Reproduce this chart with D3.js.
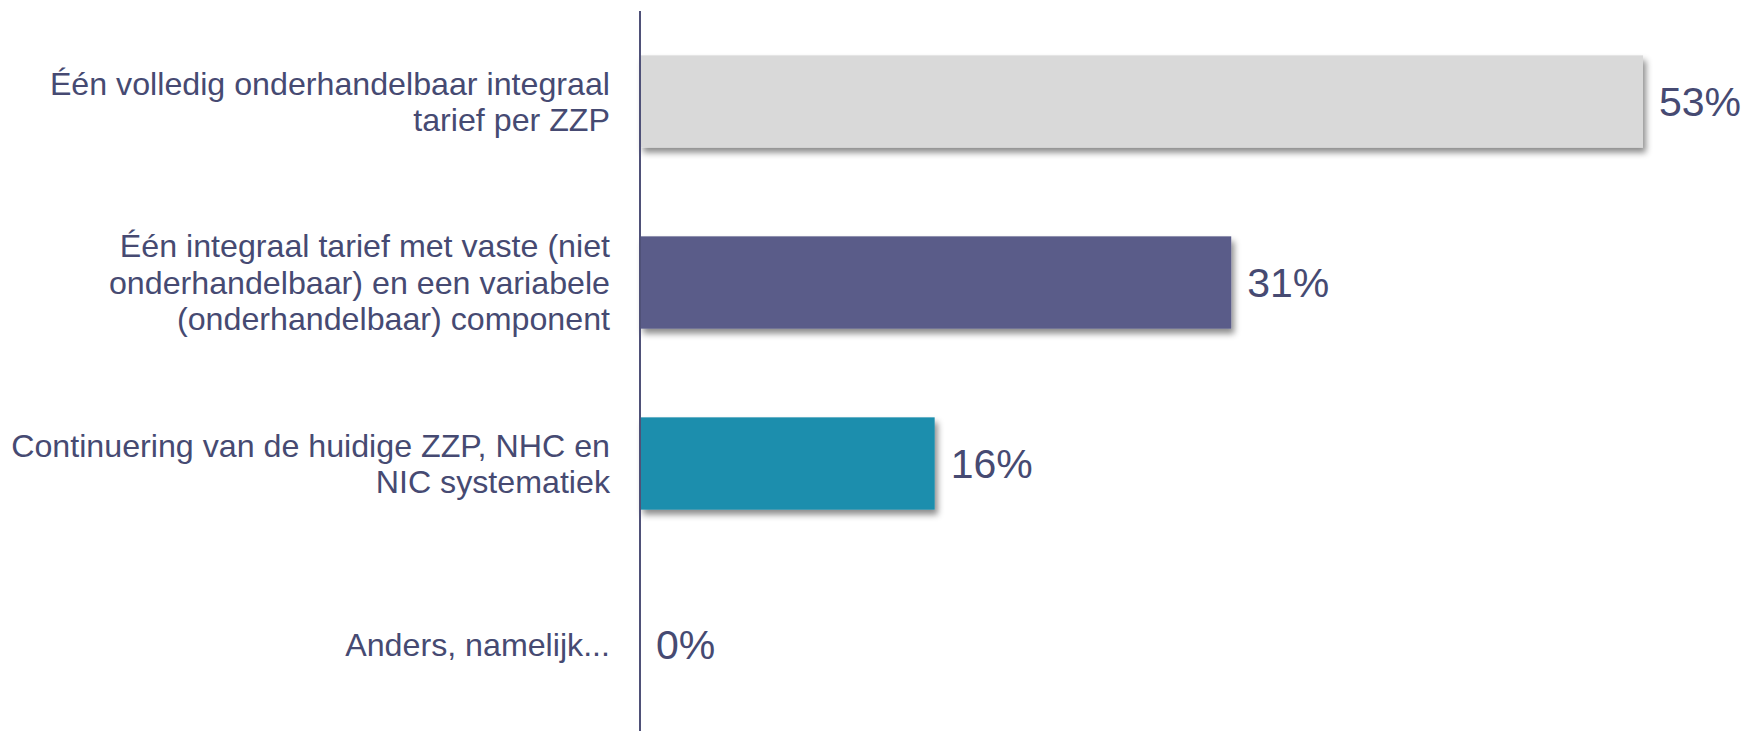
<!DOCTYPE html>
<html>
<head>
<meta charset="utf-8">
<script src="https://cdn.jsdelivr.net/npm/d3@7"></script>
<style>
  html, body { margin: 0; padding: 0; background: #ffffff; }
  svg { display: block; }
</style>
</head>
<body>
<svg id="chart" width="1746" height="731"></svg>
<script>
const categories = [
  ["Één volledig onderhandelbaar integraal", "tarief per ZZP"],
  ["Één integraal tarief met vaste (niet", "onderhandelbaar) en een variabele", "(onderhandelbaar) component"],
  ["Continuering van de huidige ZZP, NHC en", "NIC systematiek"],
  ["Anders, namelijk..."]
];
const values = [53.1, 31.3, 15.6, 0];
const valueLabels = ["53%", "31%", "16%", "0%"];
const barColors = ["#D9D9D9", "#5A5B89", "#1F8EAD"];

const svg = d3.select("#chart");
const textColor = "#464A72";

const ids = categories.map((c, i) => i);
const y = d3.scaleBand().domain(ids).range([11, 735]).paddingInner(0.49).paddingOuter(0.245);
const x = d3.scaleLinear().domain([0, 53.1]).range([640, 1643]);

const defs = svg.append("defs");
const f = defs.append("filter").attr("id", "shadow").attr("x", "-5%").attr("y", "-20%").attr("width", "115%").attr("height", "150%");
f.append("feDropShadow").attr("dx", 3).attr("dy", 5).attr("stdDeviation", 3)
  .attr("flood-color", "#000").attr("flood-opacity", 0.45);

svg.append("g").selectAll("rect").data(values).join("rect")
  .attr("x", x(0))
  .attr("y", (d, i) => y(i))
  .attr("width", d => x(d) - x(0))
  .attr("height", y.bandwidth())
  .attr("fill", (d, i) => barColors[i % barColors.length])
  .attr("filter", "url(#shadow)")
  .style("display", d => d > 0 ? null : "none");

// axis line
svg.append("line")
  .attr("x1", x(0)).attr("x2", x(0))
  .attr("y1", 11).attr("y2", 731)
  .attr("stroke", "#4F5178").attr("stroke-width", 2);

// value labels
svg.append("g").selectAll("text").data(values).join("text")
  .attr("x", d => x(d) + 16)
  .attr("y", (d, i) => y(i) + y.bandwidth() / 2)
  .attr("dy", "0.35em")
  .attr("font-family", "Liberation Sans, Arial, sans-serif")
  .attr("font-size", 41)
  .attr("fill", textColor)
  .text((d, i) => valueLabels[i]);

// category labels
const lineH = 36.5;
const lab = svg.append("g").selectAll("text").data(categories).join("text")
  .attr("text-anchor", "end")
  .attr("font-family", "Liberation Sans, Arial, sans-serif")
  .attr("font-size", 32.2)
  .attr("fill", textColor);
lab.each(function(lines, i) {
  const cy = y(i) + y.bandwidth() / 2;
  const t = d3.select(this);
  lines.forEach((ln, k) => {
    t.append("tspan")
      .attr("x", 610)
      .attr("y", cy + (k - (lines.length - 1) / 2) * lineH)
      .attr("dy", "0.35em")
      .text(ln);
  });
});
</script>
</body>
</html>
